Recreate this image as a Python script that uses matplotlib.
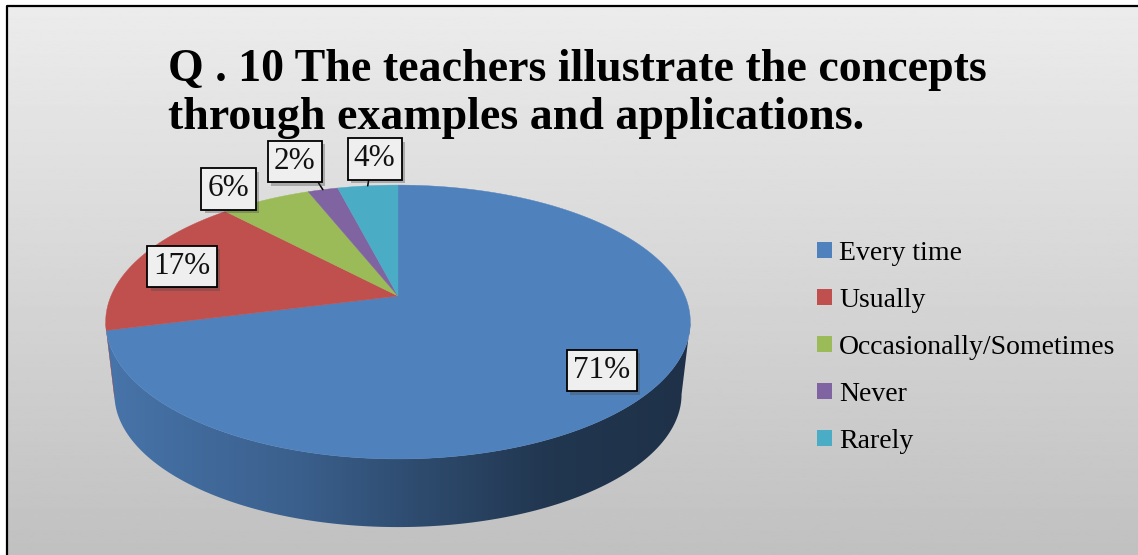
"""3D-style pie chart: Q.10 teachers illustrate concepts through examples."""

import matplotlib

matplotlib.use("Agg")

import matplotlib.patheffects as pe
import matplotlib.pyplot as plt
import numpy as np
from matplotlib.colors import to_rgb
from matplotlib.patches import Patch, Polygon

# data
categories = ["Every time", "Usually", "Occasionally/Sometimes", "Never", "Rarely"]
shares = [71, 17, 6, 2, 4]
pct_labels = ["71%", "17%", "6%", "2%", "4%"]
colors = ["#4f81bd", "#c0504d", "#9bbb59", "#8064a2", "#4bacc6"]

title_lines = ["Q . 10 The teachers illustrate the concepts",
               "through examples and applications."]

# pie geometry in pixel space (perspective-projected disc)
CX, CY = 398, 296
A, B, K = 287, 132, 0.19
CY_BOTTOM, S_BOTTOM = 369, 0.97
VIS_LO, VIS_HI = 101.0, 259.0  # visible side range, degrees clockwise from top

# side shading factor along x
SHADE_X = [106, 300, 420, 550, 691]
SHADE_F = [0.90, 0.74, 0.58, 0.42, 0.38]

SERIF = ["Liberation Serif", "DejaVu Serif"]


def project(theta_deg, r=1.0, bottom=False):
    th = np.radians(np.asarray(theta_deg, dtype=float))
    u = r * np.sin(th)
    v = -r * np.cos(th)
    den = 1 - K * v
    if bottom:
        return CX + S_BOTTOM * A * u / den, CY_BOTTOM + S_BOTTOM * B * v / den
    return CX + A * u / den, CY + B * v / den


def main() -> None:
    fig = plt.figure(figsize=(11.38, 5.55), dpi=100)
    fig.patch.set_facecolor("white")
    ax = fig.add_axes([0, 0, 1, 1])

    # background gradient + frame
    grad = np.linspace(0.925, 0.755, 256)[:, None]
    ax.imshow(grad, cmap="gray", vmin=0, vmax=1, extent=(8, 1138, 555, 6),
              aspect="auto", interpolation="bilinear", zorder=0)
    ax.plot([7.5, 7.5, 1138], [555, 5.5, 5.5], color="black", lw=1.6,
            solid_capstyle="projecting", zorder=1)

    total = sum(shares)
    bounds = np.concatenate([[0], np.cumsum(shares)]) / total * 360.0

    # sides
    xs = np.linspace(0, 1138, 600)
    fac = np.interp(xs, SHADE_X, SHADE_F)
    for i, col in enumerate(colors):
        a0, a1 = max(bounds[i], VIS_LO), min(bounds[i + 1], VIS_HI)
        if a1 <= a0:
            continue
        th = np.linspace(a0, a1, 200)
        tx, ty = project(th)
        bx, by = project(th[::-1], bottom=True)
        poly = Polygon(np.column_stack([np.r_[tx, bx], np.r_[ty, by]]),
                       closed=True, facecolor="none", edgecolor="none")
        ax.add_patch(poly)
        rgb = np.array(to_rgb(col))[None, None, :] * fac[None, :, None]
        im = ax.imshow(rgb, extent=(0, 1138, 555, 0), aspect="auto",
                       interpolation="bilinear", zorder=2)
        im.set_clip_path(poly)

    # top surface
    for i, col in enumerate(colors):
        th = np.linspace(bounds[i], bounds[i + 1], 200)
        tx, ty = project(th)
        pts = np.column_stack([np.r_[CX, tx], np.r_[CY, ty]])
        ax.add_patch(Polygon(pts, closed=True, facecolor=col,
                             edgecolor=col, lw=0.3, zorder=3))

    # data labels
    inside = [True, True, False, False, False]
    offsets = [(1, 2), (-2, -1), (-37, -11), (-28, -28), (7, -27)]
    leader = [False, False, False, True, True]
    relpos = [(0.5, 0.5), (0.5, 0.5), (0.5, 0.5), (0.96, 0.0), (0.38, 0.0)]
    for i, lab in enumerate(pct_labels):
        mid = (bounds[i] + bounds[i + 1]) / 2
        px, py = project(mid, r=0.81 if inside[i] else 1.0)
        arrow = dict(arrowstyle="-", color="black", lw=1.1,
                     relpos=relpos[i], shrinkA=0, shrinkB=0) if leader[i] else None
        t = ax.annotate(lab, xy=(float(px), float(py)),
                        xytext=(offsets[i][0], -offsets[i][1]),
                        textcoords="offset pixels", ha="center", va="center",
                        fontsize=22.5, family=SERIF, color="#111111", zorder=6,
                        bbox=dict(boxstyle="square,pad=0.2", facecolor="#efefef",
                                  edgecolor="black", lw=1.3),
                        arrowprops=arrow)
        t.get_bbox_patch().set_path_effects(
            [pe.SimplePatchShadow(offset=(2.5, -2.5), alpha=0.35), pe.Normal()])

    # title
    ax.text(168, 81, title_lines[0], fontsize=33, fontweight="bold",
            family=SERIF, va="baseline", ha="left", zorder=6)
    ax.text(168, 129, title_lines[1], fontsize=33, fontweight="bold",
            family=SERIF, va="baseline", ha="left", zorder=6)

    # legend
    handles = [Patch(facecolor=c, edgecolor="none") for c in colors]
    ax.legend(handles, categories, loc="upper left",
              bbox_to_anchor=(817 / 1138, 1 - 241 / 555), frameon=False,
              prop=dict(family=SERIF, size=20), handlelength=0.54,
              handleheight=0.54, handletextpad=0.26, labelspacing=0.79,
              borderpad=0, borderaxespad=0)

    ax.set_xlim(0, 1138)
    ax.set_ylim(555, 0)
    ax.axis("off")
    fig.savefig("out.png", dpi=100)
    plt.close(fig)


if __name__ == "__main__":
    main()
